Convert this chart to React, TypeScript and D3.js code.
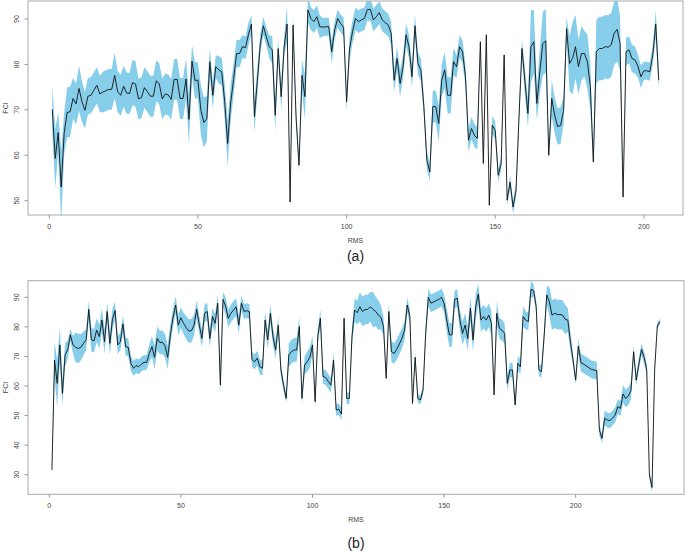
import * as d3 from 'd3';

// panel (a): FCI estimate and half width of the band, RMS = 1..205
const fciA = [
  70.1, 59.3, 65, 53, 64.8, 69.4, 69.6, 72.5, 71.3, 74.7,
  71.8, 69.9, 73, 73.2, 74.3, 75.4, 73.5, 73.9, 74.2, 74.5,
  74.5, 77.6, 74, 73.2, 75.2, 73.7, 73.6, 76, 75.7, 72.4,
  72.7, 74.9, 74, 73, 73, 76.4, 75.7, 72.4, 73.5, 73.3,
  72.3, 76.7, 76.7, 72.5, 72.5, 76.8, 67.9, 80.7, 76.5, 76.5,
  69.9, 67.2, 68.1, 80.6, 73.2, 79.5, 78.8, 78.4, 71.8, 62.6,
  71.5, 76.7, 82.4, 82.4, 83.9, 83.7, 86.6, 88.9, 68.5, 76.5,
  84.6, 88.5, 86.1, 83.9, 83.2, 68.8, 83.5, 72.9, 83.9, 88.9,
  49.7, 88.7, 68.5, 57.8, 77.6, 72.9, 92, 90.1, 89.4, 90.5,
  88.3, 88.2, 88.3, 88.3, 82.8, 87.6, 90.1, 89, 88.2, 71.8,
  83.5, 87.2, 90.1, 89.4, 89.8, 90.1, 92.1, 92.1, 89.8, 90.5,
  91.4, 89.8, 89.2, 88.7, 86.8, 76.5, 81.3, 75.8, 79.5, 86.5,
  83.9, 77.3, 88.5, 80.2, 78.8, 70.7, 58.9, 56.3, 70.7, 70.7,
  67, 76.5, 78.8, 73.2, 73.2, 80.6, 79.5, 83.9, 82.8, 77.3,
  63.3, 65.9, 64.4, 63.7, 85, 58.2, 86.5, 49, 66.6, 65.5,
  55.6, 58.2, 82.1, 50.1, 54.1, 48.6, 52.3, 68.5, 83.5, 76.2,
  69.2, 83.9, 85, 71.4, 78.4, 84.6, 85.2, 60, 72.5, 68.8,
  66.3, 66.6, 69.9, 87.9, 80.2, 81.3, 83.9, 79.5, 82.4, 82.4,
  80.6, 75.1, 58.5, 82.8, 83.5, 83.5, 83.9, 83.8, 84.3, 86.8,
  87.7, 84.6, 50.8, 82.8, 83.2, 81.3, 81, 79.6, 77.3, 78.6,
  78.6, 78.4, 82.1, 88.9, 76.5,
];
const ciA = [
  5.3, 6.5, 4.5, 8, 4.5, 5.5, 5.5, 4.5, 4.5, 5,
  4.5, 4, 4, 4, 4, 4, 4, 4.5, 4.5, 4.5,
  4.5, 5, 4.5, 4.5, 4.5, 4.5, 4.5, 5, 5, 4.5,
  4.5, 4.5, 4.5, 4.5, 4.5, 4.5, 4.5, 4.5, 4.5, 4.5,
  4.5, 4.5, 4.5, 4.5, 4.5, 4.5, 5.5, 3.5, 4, 4,
  5.5, 5.5, 5, 3, 3, 2.5, 3, 3, 4, 5,
  4, 3.5, 3, 3, 2.5, 2.5, 2.5, 2, 3.5, 3,
  2, 2, 2, 2.5, 3, 3.5, 2, 3, 2, 4,
  1.5, 2, 2, 1.5, 3.5, 5, 3, 2.5, 2.5, 2.5,
  2.5, 2, 2, 2, 2.5, 2, 2, 2, 2, 2,
  2.5, 2.5, 2.5, 2.5, 2.5, 2.5, 2.5, 2.5, 2.5, 2.5,
  2.5, 2.5, 2.5, 2.5, 2.5, 2.5, 2.5, 3, 2.5, 2.5,
  2.5, 2.5, 2.5, 2.5, 2.5, 2, 2, 2, 3.5, 3.5,
  4, 3.5, 4, 4, 4, 3, 2.5, 2.5, 2.5, 2.5,
  2.5, 2.5, 2.5, 2.5, 1, 1, 1, 1, 2, 2,
  1.5, 1.5, 1, 1, 1.5, 1.5, 1.5, 2, 2, 3,
  3, 8, 7, 3.5, 5, 7, 7, 1, 4, 4,
  4, 4, 3, 2.5, 6, 8, 7, 6, 6, 5,
  6, 5, 1, 7, 7, 7, 7, 7, 7, 7,
  7, 6, 1, 3, 3, 3, 3, 2.5, 2.5, 2,
  2, 2, 2, 3, 2,
];

// panel (b): RMS = 1..232
const fciB = [
  31.6, 68.8, 60.9, 73.9, 57.5, 70.5, 72.2, 77.3, 73.9, 73.1,
  72.7, 73.1, 74.4, 75.6, 85.9, 75.6, 75.3, 78.9, 76.7, 82.3,
  75, 85.2, 74.4, 82.6, 85.5, 73.9, 75, 81, 73.3, 73.1,
  67.7, 66, 66.9, 66.5, 67.4, 68, 68, 71, 73.3, 69.7,
  76.1, 74.7, 74.8, 73.5, 69.7, 77.3, 83.1, 87.4, 80.6, 83.1,
  81.2, 79.8, 78.6, 78.7, 80.6, 85.9, 80.6, 76.1, 84.6, 85.2,
  76.1, 83.5, 81.2, 88, 60.3, 89.3, 87, 82.9, 84.6, 85.7,
  86.8, 80.6, 88, 85.2, 85.5, 85.2, 69, 68.2, 69.4, 66.5,
  66, 82.3, 75.6, 84.6, 76.7, 72.2, 80.6, 65.4, 60.3, 55.8,
  70.5, 71.6, 72.2, 72.2, 80.1, 55.8, 67.1, 68.2, 69.7, 73.9,
  54.7, 76.7, 82.9, 63.2, 62.9, 61.5, 60.3, 68.8, 51.9, 52.1,
  50.5, 82.9, 55.8, 55.8, 76.7, 85.7, 84.8, 86.8, 85.2, 85.9,
  85.9, 86.8, 85.9, 85.2, 84, 83.2, 80.1, 62.6, 85.2, 71.6,
  71, 72.4, 74.2, 76.1, 78.9, 87.4, 83.5, 54.1, 69.7, 55.8,
  55.3, 58.6, 77.8, 90, 88, 88.4, 88.9, 89.3, 90, 88,
  82.3, 77.3, 77.3, 89.3, 89.7, 82.3, 77.8, 80.6, 76.1, 86.3,
  75.6, 86.8, 91.1, 82.3, 83.5, 82.3, 84, 81.2, 57, 84.6,
  79.5, 78.9, 77.8, 60.9, 65.4, 65.4, 53.6, 67.7, 66.5, 83.5,
  82.3, 81.8, 92.7, 92.3, 86.8, 65.4, 64.9, 76.7, 90.8, 88.5,
  84, 84.6, 84.2, 84.2, 84, 82.6, 82.3, 75, 68.8, 62,
  73.5, 67.9, 67.4, 66.8, 66.2, 65.6, 65.4, 65.2, 45.1, 42.3,
  49.1, 48.5, 48.3, 49.1, 50.2, 53, 52.4, 57.3, 55.8, 56.6,
  58.4, 71.6, 62, 67.4, 72.4, 69.7, 65.4, 29.9, 25.7, 65.4,
  80.3, 81.8,
];
const ciB = [
  0.5, 6, 8, 6, 4, 4, 3, 2, 3, 5,
  5, 4.5, 4, 3.5, 3, 4, 4, 4, 4, 4,
  4, 3, 4, 3.5, 3, 3, 3, 3, 3, 3,
  2.5, 2.5, 2.5, 2.5, 2.5, 2.5, 2.5, 3, 3.5, 4,
  4, 4, 4, 4, 4, 3.5, 3, 3, 3.5, 3.5,
  3.5, 4, 4, 4, 3.5, 3, 3, 3, 3, 3,
  3, 3, 3, 3, 3.5, 2.5, 3, 3, 3, 3,
  3, 3, 2.5, 2.5, 2.5, 2.5, 2.5, 2.5, 2.5, 2.5,
  2.5, 3, 3, 3, 3, 3, 3, 2, 2, 1.5,
  4, 4, 4, 4, 3.5, 2, 3, 3.5, 3.5, 3,
  2, 2.5, 3, 2.5, 2.5, 2.5, 2.5, 2.5, 2, 2,
  2, 2, 2, 2, 3, 4, 4, 5, 5, 5,
  5, 5, 6, 5, 5, 4, 3, 1, 2.5, 3.5,
  3.5, 3.5, 3.5, 3.5, 3, 2.5, 2.5, 1, 2, 1.5,
  1.5, 1.5, 2.5, 3, 3, 3, 3, 3, 3, 3,
  4, 4, 4, 3, 3, 3.5, 4, 4, 4, 4,
  4, 4, 3.5, 4, 4, 4, 4, 4, 1, 4,
  3.5, 3.5, 3.5, 2.5, 2.5, 2.5, 1.5, 2.5, 2.5, 3.5,
  3, 3, 3, 2, 2, 2, 2, 2.5, 3, 5,
  5, 5, 5, 5, 5, 5, 4, 3, 2, 1.5,
  2.5, 3, 3, 3, 3, 3, 3, 3, 2, 1.5,
  2.5, 2.5, 2.5, 2.5, 2.5, 2.5, 2.5, 3, 3, 3,
  3, 2, 2, 2, 2, 2, 2, 1, 2, 1,
  1, 1,
];

const xTicksA = [0, 50, 100, 150, 200];
const yTicksA = [50, 60, 70, 80, 90];
const xTicksB = [0, 50, 100, 150, 200];
const yTicksB = [30, 40, 50, 60, 70, 80, 90];

const FONT = '"Liberation Sans", Arial, sans-serif';

type Pt = { x: number; y: number; ci: number };

function Panel(props: {
  id: string;
  values: number[];
  ci: number[];
  xDomain: [number, number];
  yDomain: [number, number];
  xTicks: number[];
  yTicks: number[];
  top: number;
  bottom: number;
  left: number;
  right: number;
  tag: string;
  tagY: number;
}) {
  const { values, ci, top, bottom, left, right } = props;
  const data: Pt[] = values.map((v, i) => ({ x: i + 1, y: v, ci: ci[i] }));
  const x = d3.scaleLinear().domain(props.xDomain).range([left, right]);
  const y = d3.scaleLinear().domain(props.yDomain).range([bottom, top]);

  const band = d3
    .area<Pt>()
    .x((d) => x(d.x))
    .y0((d) => y(d.y - d.ci))
    .y1((d) => y(d.y + d.ci));
  const line = d3
    .line<Pt>()
    .x((d) => x(d.x))
    .y((d) => y(d.y));

  const midX = (left + right) / 2;
  const midY = (top + bottom) / 2;

  return (
    <g>
      <defs>
        <clipPath id={props.id}>
          <rect x={left} y={top} width={right - left} height={bottom - top} />
        </clipPath>
      </defs>
      <g clipPath={`url(#${props.id})`}>
        <path d={band(data) || ''} fill="#87ceeb" />
        <path d={line(data) || ''} fill="none" stroke="#111" strokeWidth={0.9} />
      </g>
      <rect x={left} y={top} width={right - left} height={bottom - top} fill="none" stroke="#aaa" strokeWidth={1} />
      {/* x axis */}
      {props.xTicks.map((t) => (
        <g key={'x' + t}>
          <line x1={x(t)} x2={x(t)} y1={bottom} y2={bottom + 3.5} stroke="#999" />
          <text x={x(t)} y={bottom + 14} textAnchor="middle" fontSize={7} fill="#444" fontFamily={FONT}>
            {t}
          </text>
        </g>
      ))}
      {/* y axis */}
      {props.yTicks.map((t) => (
        <g key={'y' + t}>
          <line x1={left - 3.5} x2={left} y1={y(t)} y2={y(t)} stroke="#999" />
          <text
            transform={`translate(${left - 9},${y(t)}) rotate(-90)`}
            textAnchor="middle"
            fontSize={7}
            fill="#444"
            fontFamily={FONT}
          >
            {t}
          </text>
        </g>
      ))}
      <text x={midX} y={bottom + 28} textAnchor="middle" fontSize={7} fill="#444" fontFamily={FONT}>
        RMS
      </text>
      <text
        transform={`translate(8,${midY}) rotate(-90)`}
        textAnchor="middle"
        fontSize={7}
        fill="#444"
        fontFamily={FONT}
      >
        FCI
      </text>
      <text x={midX} y={props.tagY} textAnchor="middle" fontSize={14} fill="#222" fontFamily={FONT}>
        {props.tag}
      </text>
    </g>
  );
}

export default function App() {
  return (
    <svg
      width={685}
      height={551}
      style={{ position: 'absolute', left: 0, top: 0, background: '#fff' }}
    >
      <Panel
        id="clipA"
        values={fciA}
        ci={ciA}
        xDomain={[-7.16, 213.16]}
        yDomain={[46.85, 93.96]}
        xTicks={xTicksA}
        yTicks={yTicksA}
        top={1}
        bottom={215}
        left={28}
        right={683}
        tag="(a)"
        tagY={261}
      />
      <Panel
        id="clipB"
        values={fciB}
        ci={ciB}
        xDomain={[-8.09, 241.15]}
        yDomain={[23.37, 95.62]}
        xTicks={xTicksB}
        yTicks={yTicksB}
        top={280.7}
        bottom={494.3}
        left={28}
        right={684}
        tag="(b)"
        tagY={548}
      />
    </svg>
  );
}
